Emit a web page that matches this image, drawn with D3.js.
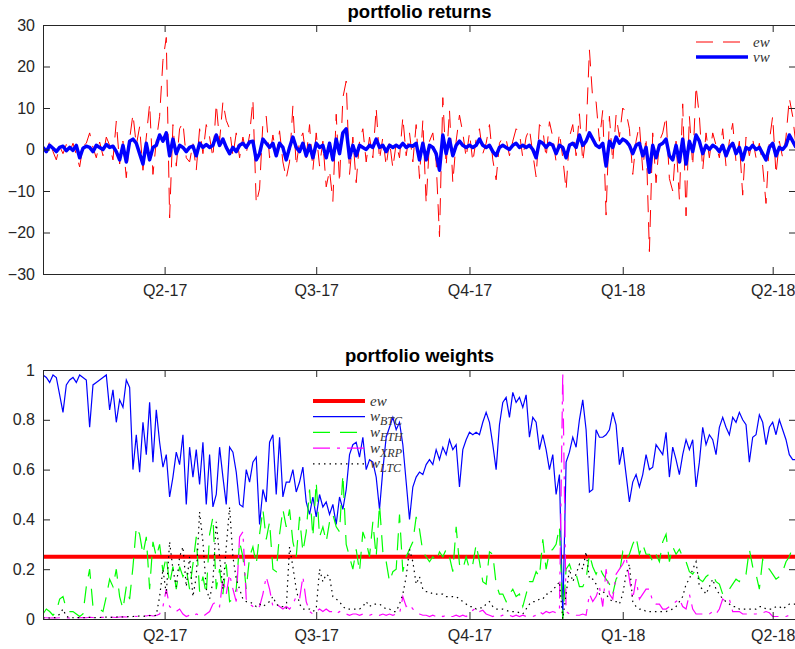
<!DOCTYPE html>
<html>
<head>
<meta charset="utf-8">
<script src="https://cdn.jsdelivr.net/npm/d3@7"></script>
<style>
  body { margin: 0; background: #ffffff; }
  svg { display: block; }
</style>
</head>
<body>
<svg id="chart" width="795" height="649"></svg>
<script>
// Observation dates: one value every two days starting here
const startDate = "2017-01-18";
const stepDays = 2;

// Quarter ticks on the time axis
const quarterTicks = ["2017-04-01", "2017-07-01", "2017-10-01", "2018-01-01", "2018-04-01"];
const quarterLabels = ["Q2-17", "Q3-17", "Q4-17", "Q1-18", "Q2-18"];

const returnTicks = [-30, -20, -10, 0, 10, 20, 30];
const weightTicks = [0, 0.2, 0.4, 0.6, 0.8, 1];
const weightTickLabels = ["0", "0.2", "0.4", "0.6", "0.8", "1"];

// Equally weighted portfolio returns (%)
const ewReturns = [
  0.5, -0.8, 2.0, -0.5, -2.5, 0.8, -1.0, 1.2, -0.6, 1.5,
  -1.2, -4.2, 0.8, 1.5, 4.0, 0.5, -2.0, 1.8, -1.5, 3.0,
  1.0, -2.5, 6.8, -3.5, 2.0, -6.8, 2.5, 8.5, 1.0, 5.5,
  -5.0, 3.0, 11.0, -6.0, 2.0, 8.0, 21.5, 27.0, -16.5, 6.0,
  -4.0, 5.0, 6.5, -2.0, -3.0, 1.5, -5.0, 5.0, -1.0, 6.0,
  3.0, -2.0, 11.0, 2.0, 11.5, 7.0, 5.0, -1.5, 4.0, -2.0,
  3.0, -1.0, 3.5, 12.0, -13.0, -9.5, 6.5, 8.0, -2.0, 3.5,
  -1.5, 4.5, -3.0, -7.0, -3.0, 10.5, -4.0, 2.0, 4.0, -2.0,
  6.0, -5.0, 4.0, -4.0, 2.0, -9.0, -5.0, -12.5, 8.5, -8.0,
  12.5, 16.5, -6.0, 3.0, -8.0, 2.0, 5.0, -3.0, 3.0, -2.0,
  10.0, -2.5, 3.0, -4.0, 2.0, -4.5, 1.5, -2.0, 7.8, -1.5,
  4.0, -3.0, 6.0, -7.0, 7.0, -13.0, 2.0, 4.0, -3.0, -21.0,
  12.5, -4.0, 9.5, -8.0, 2.0, 8.3, 4.0, -2.0, 4.0, -3.0,
  2.5, 5.0, -1.0, 1.5, 6.0, -2.5, -7.3, 1.5, 3.0, 2.5,
  -1.5, 2.0, 5.0, 4.0, -2.0, 3.0, 5.0, -1.0, -6.6, 6.0,
  5.0, -2.0, 6.7, 3.0, -3.0, 4.0, -2.0, -9.8, 3.0, 6.0,
  -1.5, 8.6, -3.0, 4.0, 24.0, 12.0, 11.5, 2.0, 9.5, -15.8,
  8.0, -3.0, 8.3, 3.0, 10.0, 9.0, 5.0, -6.0, 2.0, 6.0,
  -5.0, 3.0, -24.6, 4.0, -8.0, 2.0, 4.0, 8.0, -7.0, -10.0,
  2.0, -12.0, 11.0, -16.0, 8.0, -4.0, 15.3, 8.0, -5.0, 4.0,
  -2.0, 4.0, 1.0, -2.0, 5.0, -4.0, 2.0, 6.3, -3.0, 2.0,
  -11.0, 3.0, -1.5, 2.5, -2.0, 1.5, -4.0, -13.0, 2.0, 8.0,
  -6.0, 2.0, -2.0, 3.0, 12.4, 8.0, 1.0
];

// Value weighted portfolio returns (%)
const vwReturns = [
  0.5, -0.5, 1.0, 0.3, -0.5, 0.5, 0.8, -0.3, 0.5, -0.2,
  1.0, -2.0, 0.3, 0.8, 0.5, -0.5, 1.0, 0.5, 0.0, 1.2,
  0.5, 0.8, -0.5, -2.5, 1.0, -3.0, 2.0, 2.5, 1.5, -1.0,
  -3.5, 1.5, -2.5, 0.5, 1.0, 3.5, 2.0, 4.0, -1.5, 2.5,
  -1.0, 1.0, 0.5, -0.5, 0.5, 0.8, -1.5, 1.5, 0.5, 1.2,
  0.5, 1.0, 3.5, 1.0, 2.5, 0.5, -1.0, 0.5, -0.5, 1.0,
  1.5, 0.5, 1.8, 2.0, -2.5, -1.0, 2.5, 1.5, 0.5, 1.5,
  -1.5, 1.5, 0.5, -2.5, 0.5, 3.0, 0.5, -0.5, 1.5, -1.5,
  1.0, -2.0, 1.5, 0.5, 1.0, -2.0, 1.5, -2.5, 2.5, -1.0,
  4.0, 5.0, -2.0, 1.0, -1.5, 1.0, 0.5, 0.0, 1.0, 0.5,
  2.5, 0.5, 1.0, -0.5, 1.0, 0.5, 1.0, 0.5, 1.5, 0.5,
  1.0, 0.8, 1.5, -2.5, 1.5, -2.5, 1.0, 0.5, -1.0, -5.0,
  3.5, -1.0, 2.5, -1.5, 1.0, 2.0, 1.0, 0.5, 1.0, 0.5,
  1.0, 2.5, 1.0, 0.5, 1.0, -0.5, -1.5, 0.5, 1.0, 0.5,
  0.0, 1.0, 1.5, 0.5, 1.0, 0.5, 1.0, 0.0, -2.0, 2.0,
  1.5, 0.5, 1.5, 1.0, -1.0, 1.0, 0.5, -2.0, 1.0, 1.5,
  0.5, 3.5, 1.0, 2.0, 4.0, 2.5, 1.0, 0.5, 1.5, -4.0,
  2.0, 0.5, 3.0, 1.5, 2.5, 2.0, 1.0, -1.0, 1.0, 1.5,
  -1.5, 0.5, -5.5, 1.0, -2.0, 1.0, 1.5, 2.5, -1.5, -2.5,
  1.0, -3.0, 2.5, -3.5, 2.0, -0.5, 3.5, 2.0, -1.0, 1.0,
  0.0, 1.0, 0.5, -0.5, 1.0, -1.5, 0.5, 1.5, -1.0, 0.5,
  -2.5, 0.5, 0.0, 1.0, 0.0, 0.5, -1.0, -2.5, 0.5, 1.5,
  -1.5, 0.5, 0.0, 1.0, 3.5, 2.0, 0.5
];

// Equal weight of each of the four coins
const ewWeight = 0.25;

// Value weights
const wBTC = [
  0.98, 0.97, 0.95, 0.98, 0.97, 0.90, 0.83, 0.94, 0.96, 0.97,
  0.95, 0.98, 0.97, 0.96, 0.77, 0.94, 0.95, 0.96, 0.97, 0.98,
  0.84, 0.92, 0.79, 0.88, 0.85, 0.96, 0.93, 0.60, 0.74, 0.59,
  0.79, 0.66, 0.87, 0.63, 0.84, 0.71, 0.61, 0.66, 0.49, 0.57,
  0.67, 0.62, 0.74, 0.46, 0.69, 0.57, 0.68, 0.54, 0.71, 0.46,
  0.66, 0.45, 0.50, 0.69, 0.57, 0.46, 0.69, 0.67, 0.59, 0.46,
  0.45, 0.60, 0.55, 0.63, 0.65, 0.38, 0.52, 0.47, 0.71, 0.74,
  0.50, 0.73, 0.49, 0.55, 0.55, 0.60, 0.51, 0.55, 0.61, 0.47,
  0.42, 0.49, 0.41, 0.50, 0.45, 0.47, 0.42, 0.46, 0.38, 0.49,
  0.44, 0.52, 0.66, 0.70, 0.71, 0.65, 0.73, 0.60, 0.64, 0.63,
  0.57, 0.44, 0.60, 0.73, 0.77, 0.81, 0.76, 0.79, 0.70, 0.55,
  0.40, 0.53, 0.57, 0.59, 0.58, 0.62, 0.64, 0.62, 0.68, 0.64,
  0.69, 0.66, 0.72, 0.68, 0.70, 0.53, 0.68, 0.72, 0.75, 0.74,
  0.75, 0.74, 0.79, 0.83, 0.79, 0.70, 0.60, 0.78, 0.87, 0.89,
  0.81, 0.91, 0.87, 0.89, 0.85, 0.90, 0.73, 0.81, 0.79, 0.68,
  0.74, 0.68, 0.60, 0.66, 0.50, 0.58, 0.01, 0.63, 0.67, 0.73,
  0.69, 0.80, 0.88, 0.76, 0.51, 0.52, 0.76, 0.73, 0.73, 0.74,
  0.76, 0.83, 0.78, 0.62, 0.69, 0.58, 0.47, 0.55, 0.58, 0.53,
  0.58, 0.66, 0.60, 0.61, 0.70, 0.68, 0.66, 0.75, 0.57, 0.69,
  0.64, 0.58, 0.66, 0.72, 0.68, 0.72, 0.53, 0.63, 0.77, 0.70,
  0.74, 0.72, 0.66, 0.77, 0.81, 0.77, 0.74, 0.81, 0.79, 0.83,
  0.80, 0.78, 0.63, 0.73, 0.74, 0.82, 0.79, 0.70, 0.77, 0.79,
  0.74, 0.80, 0.76, 0.72, 0.66, 0.64, 0.64
];

const wETH = [
  0.02, 0.04, 0.03, 0.015, 0.03, 0.08, 0.09, 0.04, 0.03, 0.03,
  0.02, 0.01, 0.02, 0.13, 0.20, 0.05, 0.04, 0.04, 0.03, 0.09,
  0.16, 0.13, 0.20, 0.09, 0.04, 0.13, 0.08, 0.21, 0.37, 0.34,
  0.26, 0.33, 0.12, 0.31, 0.25, 0.30, 0.19, 0.25, 0.14, 0.21,
  0.12, 0.21, 0.17, 0.20, 0.12, 0.22, 0.33, 0.11, 0.17, 0.10,
  0.34, 0.41, 0.12, 0.20, 0.10, 0.22, 0.07, 0.08, 0.12, 0.31,
  0.25, 0.12, 0.25, 0.29, 0.22, 0.34, 0.44, 0.32, 0.39, 0.20,
  0.19, 0.34, 0.44, 0.37, 0.44, 0.31, 0.25, 0.41, 0.27, 0.35,
  0.52, 0.33, 0.55, 0.33, 0.37, 0.31, 0.39, 0.42, 0.37, 0.35,
  0.58, 0.30, 0.25, 0.20, 0.28, 0.19, 0.35, 0.31, 0.25, 0.39,
  0.25, 0.46, 0.27, 0.23, 0.15, 0.19, 0.20, 0.42, 0.19, 0.25,
  0.28, 0.31, 0.41, 0.36, 0.27, 0.25, 0.23, 0.25, 0.23, 0.27,
  0.25, 0.28, 0.25, 0.19, 0.37, 0.22, 0.20, 0.25, 0.20, 0.22,
  0.30, 0.23, 0.15, 0.14, 0.27, 0.26, 0.14, 0.10, 0.10, 0.07,
  0.10, 0.12, 0.09, 0.10, 0.05, 0.10, 0.15, 0.15, 0.19, 0.17,
  0.32, 0.20, 0.27, 0.28, 0.30, 0.37, 0.00, 0.20, 0.22, 0.18,
  0.18, 0.13, 0.13, 0.16, 0.26, 0.21, 0.18, 0.21, 0.18, 0.16,
  0.14, 0.10, 0.16, 0.18, 0.27, 0.24, 0.26, 0.30, 0.33, 0.26,
  0.30, 0.26, 0.26, 0.23, 0.26, 0.23, 0.31, 0.34, 0.23, 0.29,
  0.26, 0.28, 0.25, 0.23, 0.19, 0.18, 0.20, 0.16, 0.15, 0.17,
  0.18, 0.18, 0.15, 0.14, 0.10, 0.12, 0.12, 0.14, 0.16, 0.15,
  0.18, 0.18, 0.28, 0.21, 0.18, 0.12, 0.24, 0.21, 0.20, 0.18,
  0.16, 0.17, 0.19, 0.23, 0.25, 0.29, 0.30
];

const wXRP = [
  0.005, 0.005, 0.004, 0.005, 0.004, 0.005, 0.006, 0.005, 0.004, 0.005,
  0.006, 0.005, 0.006, 0.005, 0.007, 0.006, 0.005, 0.006, 0.007, 0.006,
  0.008, 0.007, 0.006, 0.008, 0.009, 0.008, 0.010, 0.012, 0.010, 0.011,
  0.013, 0.012, 0.015, 0.012, 0.014, 0.02, 0.05, 0.12, 0.05, 0.04,
  0.03, 0.04, 0.02, 0.01, 0.015, 0.01, 0.02, 0.015, 0.01, 0.02,
  0.03, 0.06, 0.07, 0.05, 0.16, 0.10, 0.18, 0.12, 0.07, 0.33,
  0.35, 0.08, 0.06, 0.05, 0.06, 0.05, 0.10, 0.17, 0.12, 0.05,
  0.06, 0.05, 0.04, 0.05, 0.04, 0.06, 0.09, 0.08, 0.17, 0.07,
  0.03, 0.02, 0.03, 0.04, 0.03, 0.04, 0.03, 0.03, 0.02, 0.03,
  0.02, 0.02, 0.015, 0.02, 0.02, 0.015, 0.02, 0.02, 0.015, 0.02,
  0.02, 0.015, 0.02, 0.015, 0.02, 0.015, 0.02, 0.02, 0.09, 0.05,
  0.06, 0.04, 0.03, 0.02, 0.015, 0.015, 0.01, 0.015, 0.01, 0.015,
  0.01, 0.015, 0.01, 0.01, 0.015, 0.01, 0.015, 0.01, 0.02, 0.035,
  0.045, 0.03, 0.035, 0.02, 0.015, 0.01, 0.015, 0.01, 0.015, 0.01,
  0.015, 0.01, 0.015, 0.01, 0.015, 0.01, 0.01, 0.01, 0.015, 0.03,
  0.02, 0.03, 0.025, 0.03, 0.025, 0.03, 0.99, 0.03, 0.02, 0.015,
  0.015, 0.015, 0.02, 0.015, 0.10, 0.07, 0.09, 0.13, 0.05, 0.20,
  0.10, 0.08, 0.18, 0.20, 0.22, 0.25, 0.16, 0.08, 0.16, 0.08,
  0.10, 0.12, 0.12, 0.07, 0.06, 0.06, 0.04, 0.04, 0.05, 0.06,
  0.07, 0.08, 0.05, 0.04, 0.10, 0.04, 0.02, 0.02, 0.02, 0.02,
  0.02, 0.03, 0.02, 0.04, 0.08, 0.07, 0.08, 0.03, 0.03, 0.03,
  0.02, 0.02, 0.02, 0.02, 0.02, 0.025, 0.025, 0.03, 0.025, 0.01,
  0.01, 0.01, 0.01, 0.01, 0.015, 0.02, 0.02
];

const wLTC = [
  0.004, 0.005, 0.004, 0.005, 0.006, 0.02, 0.04, 0.01, 0.006, 0.005,
  0.005, 0.006, 0.005, 0.006, 0.007, 0.006, 0.005, 0.006, 0.007, 0.008,
  0.007, 0.006, 0.008, 0.009, 0.008, 0.01, 0.009, 0.01, 0.011, 0.012,
  0.01, 0.012, 0.014, 0.013, 0.015, 0.09, 0.20, 0.10, 0.31, 0.20,
  0.13, 0.25, 0.29, 0.13, 0.25, 0.09, 0.17, 0.43, 0.31, 0.12,
  0.08, 0.15, 0.39, 0.25, 0.12, 0.29, 0.45, 0.25, 0.16, 0.12,
  0.08, 0.07, 0.07, 0.06, 0.05, 0.06, 0.05, 0.06, 0.07, 0.09,
  0.06, 0.05, 0.05, 0.04, 0.29, 0.21, 0.12, 0.06, 0.04, 0.04,
  0.04, 0.03, 0.04, 0.20, 0.15, 0.18, 0.17, 0.09, 0.08, 0.07,
  0.05, 0.04, 0.04, 0.04, 0.04, 0.04, 0.05, 0.07, 0.05, 0.06,
  0.06, 0.06, 0.05, 0.04, 0.04, 0.03, 0.03, 0.06, 0.10, 0.17,
  0.28, 0.23, 0.14, 0.17, 0.12, 0.11, 0.11, 0.10, 0.10, 0.10,
  0.10, 0.09, 0.09, 0.09, 0.09, 0.08, 0.07, 0.06, 0.05, 0.05,
  0.04, 0.045, 0.045, 0.06, 0.07, 0.05, 0.04, 0.04, 0.04, 0.035,
  0.03, 0.03, 0.03, 0.025, 0.02, 0.04, 0.06, 0.07, 0.07, 0.08,
  0.08, 0.10, 0.10, 0.12, 0.13, 0.15, 0.00, 0.10, 0.20, 0.15,
  0.18, 0.22, 0.20, 0.27, 0.16, 0.16, 0.14, 0.10, 0.11, 0.10,
  0.08, 0.07, 0.07, 0.06, 0.10, 0.18, 0.22, 0.07, 0.05, 0.04,
  0.04, 0.03, 0.03, 0.03, 0.03, 0.03, 0.03, 0.03, 0.035, 0.04,
  0.05, 0.07, 0.09, 0.14, 0.16, 0.20, 0.23, 0.13, 0.12, 0.10,
  0.13, 0.16, 0.12, 0.10, 0.08, 0.07, 0.06, 0.05, 0.05, 0.04,
  0.04, 0.04, 0.04, 0.04, 0.04, 0.05, 0.05, 0.04, 0.04, 0.04,
  0.05, 0.05, 0.04, 0.05, 0.06, 0.06, 0.06
];

const parseDate = d3.utcParse("%Y-%m-%d");
const start = parseDate(startDate);
const dates = ewReturns.map((_, i) => d3.utcDay.offset(start, i * stepDays));
const tickDates = quarterTicks.map(parseDate);

const svg = d3.select("#chart");
svg.append("rect").attr("width", 795).attr("height", 649).attr("fill", "#ffffff");

const left = 43, right = 796;
const x = d3.scaleUtc().domain([start, dates[dates.length - 1]]).range([left, right]);

const axisColor = "#262626";
const tickFont = "'Liberation Sans', Arial, Helvetica, sans-serif";
const legendFont = "'Liberation Serif', 'Times New Roman', serif";

function frame(g, y, top, bottom, yTicks, yFormat, clipId) {
  const styleAxis = sel => {
    sel.select(".domain").attr("stroke", axisColor).attr("stroke-width", 1);
    sel.selectAll(".tick line").attr("stroke", axisColor).attr("stroke-width", 1);
    sel.selectAll("text").attr("fill", axisColor).attr("font-family", tickFont).attr("font-size", 16);
  };
  g.append("g").attr("transform", `translate(0,${bottom})`)
    .call(d3.axisBottom(x).tickValues(tickDates).tickFormat((d, i) => quarterLabels[i])
      .tickSizeInner(-7).tickSizeOuter(0).tickPadding(11))
    .call(styleAxis);
  g.append("g").attr("transform", `translate(0,${top})`)
    .call(d3.axisTop(x).tickValues(tickDates).tickFormat("")
      .tickSizeInner(-7).tickSizeOuter(0))
    .call(styleAxis);
  g.append("g").attr("transform", `translate(${left},0)`)
    .call(d3.axisLeft(y).tickValues(yTicks).tickFormat(yFormat)
      .tickSizeInner(-7).tickSizeOuter(0).tickPadding(8))
    .call(styleAxis);
  g.append("g").attr("transform", `translate(${right},0)`)
    .call(d3.axisRight(y).tickValues(yTicks).tickFormat("")
      .tickSizeInner(-7).tickSizeOuter(0))
    .call(styleAxis);
  svg.append("clipPath").attr("id", clipId)
    .append("rect").attr("x", left).attr("y", top).attr("width", right - left).attr("height", bottom - top);
}

function legendLabel(g, lx, ly, base, sub) {
  const t = g.append("text").attr("x", lx).attr("y", ly).attr("dy", "0.1em")
    .attr("font-family", legendFont).attr("font-style", "italic")
    .attr("font-size", 15).attr("fill", "#333333");
  t.append("tspan").text(base);
  if (sub) t.append("tspan").attr("dy", 4).attr("font-size", 12).text(sub);
}

// ---------- portfolio returns ----------
const rTop = 25, rBottom = 274;
const yR = d3.scaleLinear().domain([-30, 30]).range([rBottom, rTop]);
const gR = svg.append("g");

svg.append("text").attr("x", (left + right) / 2).attr("y", 17.5).attr("text-anchor", "middle")
  .attr("font-family", tickFont).attr("font-weight", "bold").attr("font-size", 18.5)
  .attr("fill", "#000").text("portfolio returns");

const plotR = gR.append("g").attr("clip-path", "url(#clipR)");
const lineR = vals => d3.line().x((d, i) => x(dates[i])).y(d => yR(d))(vals);
plotR.append("path").attr("d", lineR(ewReturns)).attr("fill", "none")
  .attr("stroke", "#ff0000").attr("stroke-width", 1).attr("stroke-dasharray", "17,10");
plotR.append("path").attr("d", lineR(vwReturns)).attr("fill", "none")
  .attr("stroke", "#0000ff").attr("stroke-width", 3.5).attr("stroke-linejoin", "round");
frame(gR, yR, rTop, rBottom, returnTicks, d3.format("d"), "clipR");

// legend
const legR = svg.append("g");
legR.append("line").attr("x1", 696).attr("x2", 748).attr("y1", 42).attr("y2", 42)
  .attr("stroke", "#ff0000").attr("stroke-width", 1).attr("stroke-dasharray", "17,10");
legR.append("line").attr("x1", 696).attr("x2", 748).attr("y1", 57).attr("y2", 57)
  .attr("stroke", "#0000ff").attr("stroke-width", 3.5);
legendLabel(legR, 753, 45, "ew");
legendLabel(legR, 753, 60, "vw");

// ---------- portfolio weights ----------
const wTop = 370, wBottom = 619;
const yW = d3.scaleLinear().domain([0, 1]).range([wBottom, wTop]);
const gW = svg.append("g");

svg.append("text").attr("x", (left + right) / 2).attr("y", 362).attr("text-anchor", "middle")
  .attr("font-family", tickFont).attr("font-weight", "bold").attr("font-size", 18.5)
  .attr("fill", "#000").text("portfolio weights");

const series = [
  { name: "ew", sub: null, values: dates.map(() => ewWeight), color: "#ff0000", width: 4, dash: null },
  { name: "w", sub: "BTC", values: wBTC, color: "#0000ff", width: 1.2, dash: null },
  { name: "w", sub: "ETH", values: wETH, color: "#00ff00", width: 1.2, dash: "17,10" },
  { name: "w", sub: "XRP", values: wXRP, color: "#ff00ff", width: 1.2, dash: "17,7,3,7" },
  { name: "w", sub: "LTC", values: wLTC, color: "#000000", width: 1.2, dash: "1.5,4" }
];

// legend sits underneath the data lines
const legW = svg.append("g");
series.forEach((s, k) => {
  const ly = 401 + k * 15.7;
  legW.append("line").attr("x1", 313).attr("x2", 365).attr("y1", ly).attr("y2", ly)
    .attr("stroke", s.color).attr("stroke-width", s.width).attr("stroke-dasharray", s.dash);
  legendLabel(legW, 370, ly + 3, s.name, s.sub);
});

const plotW = gW.append("g").attr("clip-path", "url(#clipW)");
const lineW = vals => d3.line().x((d, i) => x(dates[i])).y(d => yW(d))(vals);
series.forEach(s => {
  plotW.append("path").attr("d", lineW(s.values)).attr("fill", "none")
    .attr("stroke", s.color).attr("stroke-width", s.width)
    .attr("stroke-dasharray", s.dash);
});
frame(gW, yW, wTop, wBottom, weightTicks, (d, i) => weightTickLabels[i], "clipW");
</script>
</body>
</html>
